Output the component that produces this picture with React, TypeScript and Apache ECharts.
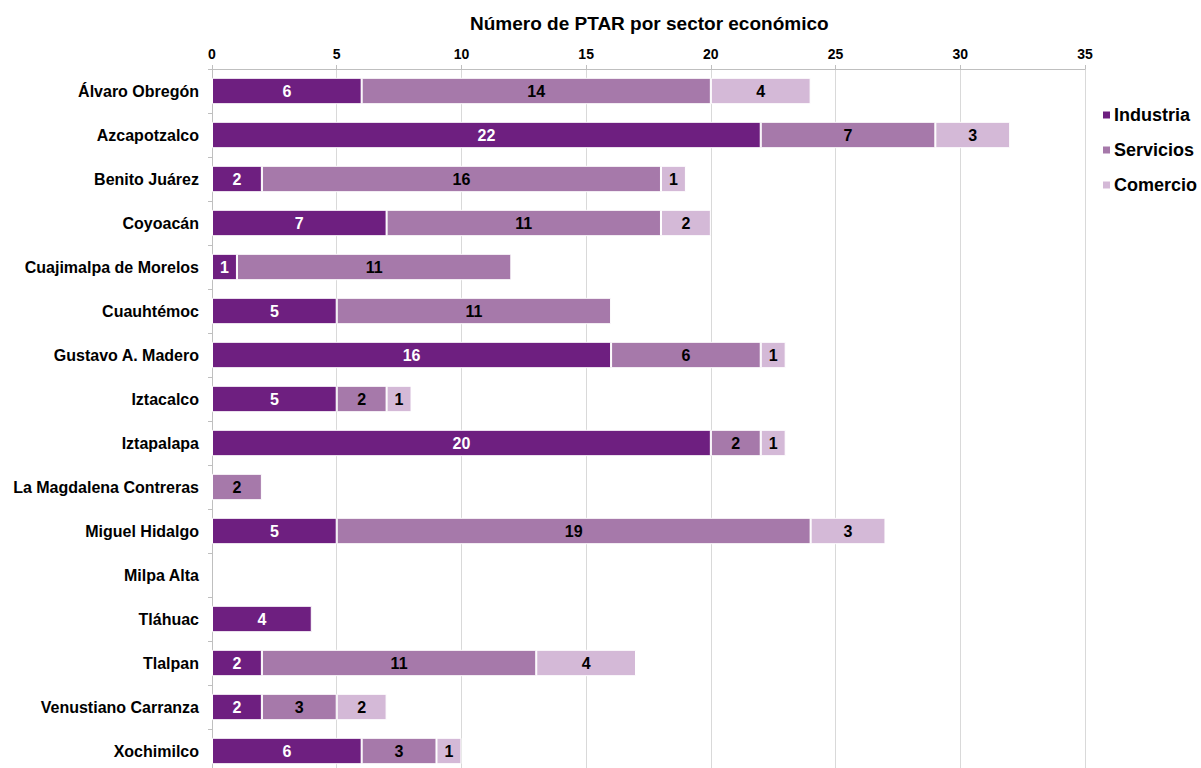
import React, { useEffect, useRef } from "react";
import * as echarts from "echarts";

const categories = [
  "Álvaro Obregón",
  "Azcapotzalco",
  "Benito Juárez",
  "Coyoacán",
  "Cuajimalpa de Morelos",
  "Cuauhtémoc",
  "Gustavo A. Madero",
  "Iztacalco",
  "Iztapalapa",
  "La Magdalena Contreras",
  "Miguel Hidalgo",
  "Milpa Alta",
  "Tláhuac",
  "Tlalpan",
  "Venustiano Carranza",
  "Xochimilco",
];
const industria = [6, 22, 2, 7, 1, 5, 16, 5, 20, null, 5, null, 4, 2, 2, 6];
const servicios = [14, 7, 16, 11, 11, 11, 6, 2, 2, 2, 19, null, null, 11, 3, 3];
const comercio = [4, 3, 1, 2, null, null, 1, 1, 1, null, 3, null, null, 4, 2, 1];
const xTicks = { min: 0, max: 35, interval: 5 };

const FONT = "Liberation Sans, Arial, sans-serif";

export default function App() {
  const ref = useRef<HTMLDivElement>(null);
  useEffect(() => {
    if (!ref.current) return;
    const chart = echarts.init(ref.current, undefined, { renderer: "svg" });
    const mk = (name: string, data: (number | null)[], color: string, labelColor: string) => ({
      name,
      type: "bar",
      stack: "total",
      data,
      barCategoryGap: "40%",
      itemStyle: { color, borderColor: "#ffffff", borderWidth: 1 },
      label: {
        show: true,
        position: "inside",
        color: labelColor,
        fontFamily: FONT,
        fontWeight: "bold",
        fontSize: 16,
      },
    });
    chart.setOption({
      animation: false,
      backgroundColor: "#ffffff",
      title: {
        text: "Número de PTAR por sector económico",
        left: 465,
        top: 9,
        textStyle: { fontFamily: FONT, fontWeight: "bold", fontSize: 19, color: "#000" },
      },
      legend: {
        orient: "vertical",
        left: 1096,
        top: 101,
        itemWidth: 9,
        itemHeight: 9,
        itemGap: 17,
        icon: "rect",
        textStyle: { fontFamily: FONT, fontWeight: "bold", fontSize: 18, color: "#000", padding: [0, 0, 0, -2] },
        data: ["Industria", "Servicios", "Comercio"],
      },
      grid: { left: 212, right: 116, top: 69, height: 704, containLabel: false },
      xAxis: {
        type: "value",
        position: "top",
        min: xTicks.min,
        max: xTicks.max,
        interval: xTicks.interval,
        axisLine: { show: true, lineStyle: { color: "#bfbfbf" } },
        axisTick: { show: true, length: 4, lineStyle: { color: "#bfbfbf" } },
        splitLine: { show: true, lineStyle: { color: "#d9d9d9" } },
        axisLabel: { fontFamily: FONT, fontWeight: "bold", fontSize: 14, color: "#000", margin: 8 },
      },
      yAxis: {
        type: "category",
        inverse: true,
        data: categories,
        axisLine: { show: true, lineStyle: { color: "#bfbfbf" } },
        axisTick: { show: true, length: 4, lineStyle: { color: "#bfbfbf" } },
        axisLabel: { fontFamily: FONT, fontWeight: "bold", fontSize: 16, color: "#000", margin: 13 },
      },
      series: [
        mk("Industria", industria, "#6e1f80", "#ffffff"),
        mk("Servicios", servicios, "#a679aa", "#000000"),
        mk("Comercio", comercio, "#d4b9d7", "#000000"),
      ],
    });
    return () => chart.dispose();
  }, []);
  return (
    <div style={{ position: "fixed", left: 0, top: 0, width: 1201, height: 768, overflow: "hidden", background: "#fff" }}>
      <div ref={ref} style={{ width: 1201, height: 780 }} />
    </div>
  );
}
